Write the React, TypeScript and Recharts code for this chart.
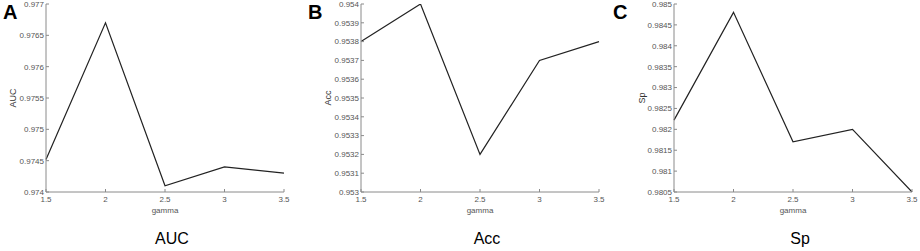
import React from "react";
import { LineChart, Line, XAxis, YAxis } from "recharts";

const gammaValues = [1.5, 2, 2.5, 3, 3.5];
const gammaTicks = [1.5, 2, 2.5, 3, 3.5];

const aucValues = [0.97452, 0.9767, 0.9741, 0.9744, 0.9743];
const aucTicks = [0.974, 0.9745, 0.975, 0.9755, 0.976, 0.9765, 0.977];

const accValues = [0.9538, 0.954, 0.9532, 0.9537, 0.9538];
const accTicks = [0.953, 0.9531, 0.9532, 0.9533, 0.9534, 0.9535, 0.9536, 0.9537, 0.9538, 0.9539, 0.954];

const spValues = [0.98222, 0.9848, 0.9817, 0.982, 0.9805];
const spTicks = [0.9805, 0.981, 0.9815, 0.982, 0.9825, 0.983, 0.9835, 0.984, 0.9845, 0.985];

const panels = [
  { letter: "A", title: "AUC", yLabel: "AUC", values: aucValues, ticks: aucTicks, left: 0, chartLeftMargin: 6, labelX: 13, titleX: 172 },
  { letter: "B", title: "Acc", yLabel: "Acc", values: accValues, ticks: accTicks, left: 305, chartLeftMargin: 16, labelX: 23, titleX: 487 },
  { letter: "C", title: "Sp", yLabel: "Sp", values: spValues, ticks: spTicks, left: 610, chartLeftMargin: 24, labelX: 32, titleX: 800 },
];

const FONT = "'Liberation Sans', Arial, Helvetica, sans-serif";
const AXIS_COLOR = "#8a8a8a";
const TICK_COLOR = "#555";
const Y_AXIS_WIDTH = 40;

function Panel({ p }: { p: (typeof panels)[number] }) {
  const data = gammaValues.map((g, i) => ({ gamma: g, v: p.values[i] }));
  const width = 310;
  const plotLeft = p.chartLeftMargin + Y_AXIS_WIDTH;
  const plotWidth = 238;
  const rightMargin = width - plotLeft - plotWidth;
  const renderYLabel = (props: any) => {
    const vb = props.viewBox || {};
    const cy = (vb.y || 0) + (vb.height || 0) / 2;
    return (
      <text
        x={p.labelX}
        y={cy}
        transform={`rotate(-90, ${p.labelX}, ${cy})`}
        textAnchor="middle"
        dominantBaseline="central"
        fill="#333"
        fontSize={9}
        fontFamily={FONT}
      >
        {p.yLabel}
      </text>
    );
  };
  return (
    <div style={{ position: "absolute", left: p.left, top: 0, width, height: 251 }}>
      <LineChart
        width={width}
        height={251}
        data={data}
        margin={{ top: 4, right: rightMargin, bottom: 29, left: p.chartLeftMargin }}
      >
        <XAxis
          dataKey="gamma"
          type="number"
          domain={[1.5, 3.5]}
          ticks={gammaTicks}
          interval={0}
          height={30}
          stroke={AXIS_COLOR}
          tickSize={-3}
          tickMargin={7}
          tick={{ fill: TICK_COLOR, fontSize: 8, fontFamily: FONT }}
          label={{ value: "gamma", position: "insideBottom", offset: 9, fill: TICK_COLOR, fontSize: 8, fontFamily: FONT }}
        />
        <XAxis
          xAxisId="top"
          orientation="top"
          dataKey="gamma"
          type="number"
          domain={[1.5, 3.5]}
          ticks={gammaTicks}
          height={0}
          stroke={AXIS_COLOR}
          tickSize={-3}
          tick={false}
        />
        <YAxis
          type="number"
          domain={[p.ticks[0], p.ticks[p.ticks.length - 1]]}
          ticks={p.ticks}
          interval={0}
          width={Y_AXIS_WIDTH}
          stroke={AXIS_COLOR}
          tickSize={-3}
          tickMargin={5}
          allowDataOverflow
          tick={{ fill: TICK_COLOR, fontSize: 8, fontFamily: FONT }}
          label={renderYLabel}
        />
        <YAxis
          yAxisId="right"
          orientation="right"
          type="number"
          domain={[p.ticks[0], p.ticks[p.ticks.length - 1]]}
          ticks={p.ticks}
          width={0}
          stroke={AXIS_COLOR}
          tickSize={-3}
          tick={false}
        />
        <Line
          type="linear"
          dataKey="v"
          stroke="#222"
          strokeWidth={1.2}
          dot={false}
          isAnimationActive={false}
        />
      </LineChart>
    </div>
  );
}

export default function App() {
  return (
    <div style={{ position: "absolute", left: 0, top: 0, width: 920, height: 251, background: "#fff", fontFamily: FONT, overflow: "hidden" }}>
      {panels.map((p) => (
        <Panel key={p.letter} p={p} />
      ))}
      {panels.map((p) => (
        <div
          key={"L" + p.letter}
          style={{ position: "absolute", left: p.left + 3, top: 2, fontSize: 20, fontWeight: "bold", fontFamily: FONT, color: "#000", lineHeight: "20px" }}
        >
          {p.letter}
        </div>
      ))}
      {panels.map((p) => (
        <div
          key={"T" + p.letter}
          style={{ position: "absolute", left: p.titleX - 50, width: 100, top: 230, textAlign: "center", fontSize: 16, fontFamily: FONT, color: "#000", lineHeight: "18px" }}
        >
          {p.title}
        </div>
      ))}
    </div>
  );
}
